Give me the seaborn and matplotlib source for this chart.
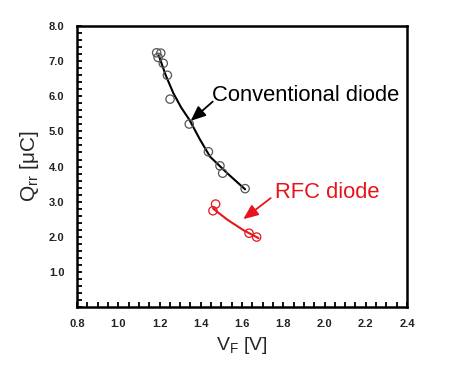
import numpy as np
import pandas as pd
import seaborn as sns
import matplotlib.pyplot as plt
from matplotlib.ticker import MultipleLocator

# measured points (V_F [V], Q_rr [uC])
conv_vf = [1.186, 1.206, 1.193, 1.218, 1.238, 1.251, 1.344, 1.437, 1.493, 1.506, 1.615]
conv_qrr = [7.24, 7.23, 7.11, 6.94, 6.60, 5.92, 5.21, 4.42, 4.02, 3.81, 3.37]
rfc_vf = [1.472, 1.459, 1.634, 1.671]
rfc_qrr = [2.93, 2.74, 2.10, 1.99]

# trend lines
conv_line_vf = [1.196, 1.230, 1.267, 1.305, 1.345, 1.395, 1.445, 1.530, 1.615]
conv_line_qrr = [7.17, 6.60, 6.09, 5.68, 5.33, 4.78, 4.28, 3.80, 3.35]
rfc_line_vf = [1.46, 1.53, 1.606, 1.68]
rfc_line_qrr = [2.80, 2.48, 2.19, 1.96]

x_ticks = [0.8, 1.0, 1.2, 1.4, 1.6, 1.8, 2.0, 2.2, 2.4]
y_ticks = [1.0, 2.0, 3.0, 4.0, 5.0, 6.0, 7.0, 8.0]

sns.set_style('white')
plt.rcParams['font.family'] = ['Liberation Sans', 'DejaVu Sans']

fig = plt.figure(figsize=(4.67, 3.68), dpi=100)
ax = fig.add_axes([0.165, 0.166, 0.7065, 0.763])

red = '#e8141c'
sns.lineplot(x=conv_line_vf, y=conv_line_qrr, color='black', lw=1.5, ax=ax, sort=False)
sns.lineplot(x=rfc_line_vf, y=rfc_line_qrr, color=red, lw=1.5, ax=ax, sort=False)
sns.scatterplot(x=conv_vf, y=conv_qrr, marker='o', s=36, facecolor='none',
                edgecolor='#555555', linewidth=0.9, ax=ax, zorder=3)
sns.scatterplot(x=rfc_vf, y=rfc_qrr, marker='o', s=36, facecolor='none',
                edgecolor=red, linewidth=0.9, ax=ax, zorder=3)

arrow = dict(arrowstyle='-|>,head_length=0.9,head_width=0.38', lw=1.3,
             shrinkA=0, shrinkB=0)
ax.annotate('', xy=(1.351, 5.30), xytext=(1.458, 5.85),
            arrowprops=dict(arrow, color='black'))
ax.text(1.455, 6.01, 'Conventional diode', fontsize=15.8, color='black',
        va='center', ha='left')
ax.annotate('', xy=(1.606, 2.50), xytext=(1.739, 3.10),
            arrowprops=dict(arrow, color=red))
ax.text(1.76, 3.26, 'RFC diode', fontsize=15.8, color=red, va='center', ha='left')

ax.set_xlim(0.8, 2.4)
ax.set_ylim(0, 8)
ax.set_xticks(x_ticks)
ax.set_yticks(y_ticks)
ax.set_xticklabels([f'{v:.1f}' for v in x_ticks])
ax.set_yticklabels([f'{v:.1f}' for v in y_ticks])
ax.xaxis.set_minor_locator(MultipleLocator(0.05))
ax.yaxis.set_minor_locator(MultipleLocator(0.2))
ax.tick_params(which='both', direction='in', length=3.5, width=1.3, color='black',
               bottom=True, left=True, top=False, right=False)
ax.tick_params(which='major', labelsize=8, pad=9)
for lab in ax.get_xticklabels() + ax.get_yticklabels():
    lab.set_fontweight('bold')
    lab.set_color('#222222')

for s in ax.spines.values():
    s.set_linewidth(1.8)
    s.set_color('black')

ax.set_xlabel('V$_\\mathregular{F}$ [V]', fontsize=14, labelpad=4)
ax.set_ylabel('Q$_\\mathregular{rr}$ [μC]', fontsize=15, labelpad=6)

fig.savefig('out.png', dpi=100)
